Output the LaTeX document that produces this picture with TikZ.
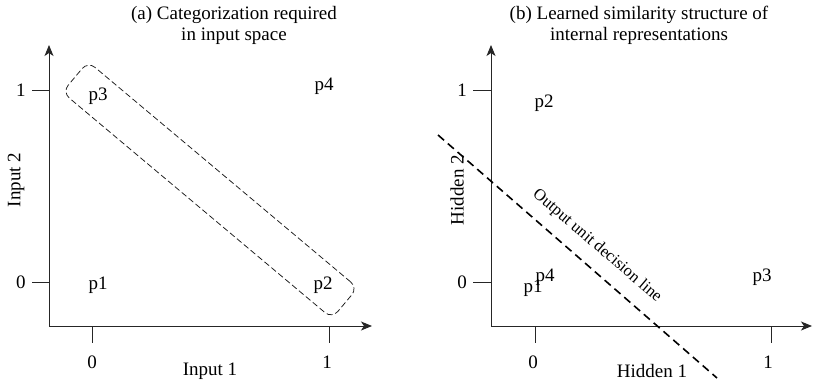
\documentclass[tikz,border=0pt]{standalone}
\usepackage{fontspec}
\setmainfont{Liberation Serif}
\usetikzlibrary{arrows.meta,shapes.geometric}
\begin{document}
\begin{tikzpicture}[x=1pt,y=-1pt,
  txt/.style={inner sep=0pt,font=\fontsize{19}{21}\selectfont},
  small/.style={inner sep=0pt,font=\fontsize{16.5}{18}\selectfont},
  axis/.style={line width=0.9pt,draw=black!85,{Stealth[length=11pt,width=9pt,inset=3pt]}-{Stealth[length=11pt,width=9pt,inset=3pt]}},
  tick/.style={line width=0.9pt,draw=black!85},
  ttl/.style={txt,align=center}]
\useasboundingbox (0,0) rectangle (814,383);
% titles
\node[ttl] (ta) at (234,25) {(a) Categorization required\\in input space};
\node[ttl] (tb) at (639,25) {(b) Learned similarity structure of\\internal representations};
% left panel axes
\coordinate (ao) at (49,326);
\coordinate (ay) at (49,45);
\coordinate (ax) at (372,326);
\draw[axis] (ay) -- (ao) -- (ax);
\coordinate (ly1a) at (32,90.7); \coordinate (ly1b) at (49,90.7);
\coordinate (ly0a) at (32,282); \coordinate (ly0b) at (49,282);
\coordinate (lx0a) at (92,326); \coordinate (lx0b) at (92,343);
\coordinate (lx1a) at (329,326); \coordinate (lx1b) at (329,343);
\draw[tick] (ly1a) -- (ly1b) (ly0a) -- (ly0b) (lx0a) -- (lx0b) (lx1a) -- (lx1b);
\node[txt] (ly1) at (21,90) {1};
\node[txt] (ly0) at (21,282) {0};
\node[txt] (lx0) at (92,362) {0};
\node[txt] (lx1) at (327,362) {1};
\node[txt] (lxl) at (210,371) {Input 1};
\node[txt,rotate=90] (lyl) at (16,180) {Input 2};
\node[txt] (lp3) at (98,96) {p3};
\node[txt] (lp4) at (324,86) {p4};
\node[txt] (lp1) at (98,285) {p1};
\node[txt] (lp2) at (323,285) {p2};
\node[draw=black!90,line width=0.75pt,dash pattern=on 6pt off 3pt,rounded corners=9pt,rotate=-40,
  minimum width=352pt,minimum height=40pt,inner sep=0pt] (grp) at (210,190) {};
% right panel axes
\coordinate (bo) at (491,326);
\coordinate (by) at (491,45);
\coordinate (bx) at (812,326);
\draw[axis] (by) -- (bo) -- (bx);
\coordinate (ry1a) at (473,90.7); \coordinate (ry1b) at (491,90.7);
\coordinate (ry0a) at (473,282); \coordinate (ry0b) at (491,282);
\coordinate (rx0a) at (535,326); \coordinate (rx0b) at (535,343);
\coordinate (rx1a) at (771,326); \coordinate (rx1b) at (771,343);
\draw[tick] (ry1a) -- (ry1b) (ry0a) -- (ry0b) (rx0a) -- (rx0b) (rx1a) -- (rx1b);
\node[txt] (ry1) at (462,90) {1};
\node[txt] (ry0) at (462,282) {0};
\node[txt] (rx0) at (533,362) {0};
\node[txt] (rx1) at (768,362) {1};
\node[txt] (rxl) at (652,371) {Hidden 1};
\node[txt,rotate=90] (ryl) at (457,190) {Hidden 2};
\node[txt] (rp2) at (544,103) {p2};
\node[txt] (rp4) at (545,277) {p4};
\node[txt] (rp1) at (533,288) {p1};
\node[txt] (rp3) at (762,277) {p3};
\coordinate (dl1) at (438,135);
\coordinate (dl2) at (717,378);
\draw[line width=1.6pt,dash pattern=on 8pt off 5pt] (dl1) -- (dl2);
\node[small,rotate=-40.5] (dlab) at (597,246) {Output unit decision line};
\end{tikzpicture}
\end{document}
